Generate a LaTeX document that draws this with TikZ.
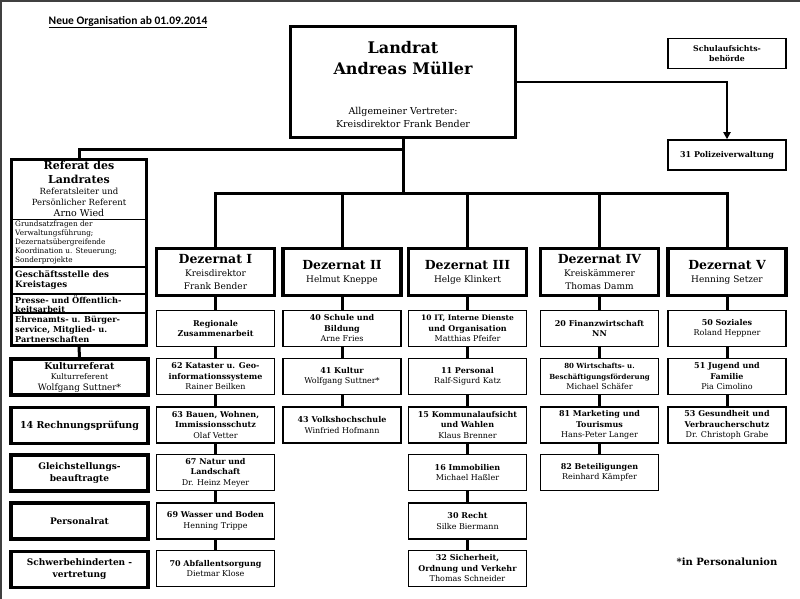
\documentclass[tikz,border=0pt]{standalone}
\usepackage{fontspec}
\setmainfont{DejaVu Serif}
\newfontfamily\titlefont{Carlito}
\usetikzlibrary{arrows.meta}
\newcommand\bb[1]{\textbf{#1}}
\begin{document}
\begin{tikzpicture}[x=1pt,y=-1pt,
 conn/.style={line width=3pt},
 sub/.style={draw,line width=1.8pt,minimum width=118pt,minimum height=36pt,align=center,inner sep=1pt,font=\fontsize{8}{10.5}\selectfont},
 dez/.style={draw,line width=3.2pt,minimum width=118pt,minimum height=47pt,align=center,inner sep=1pt,font=\fontsize{9}{13}\selectfont},
 side/.style={draw,line width=3.5pt,minimum width=137pt,minimum height=36pt,align=center,inner sep=1pt,font=\fontsize{9}{12}\selectfont\bfseries},
 small/.style={draw,line width=1.5pt,minimum width=118pt,minimum height=30pt,align=center,inner sep=1pt,font=\fontsize{7.8}{9.5}\selectfont\bfseries},
 txt/.style={inner sep=0pt,align=left,anchor=west}
]
\useasboundingbox (0,0) rectangle (800,599);
\fill[white] (0,0) rectangle (800,599);
\draw[line width=2pt,black!75] (1,599) -- (1,1) -- (800,1);

\node[inner sep=0pt,font=\titlefont\fontsize{11.5}{13}\selectfont\bfseries] (title) at (128,22) {\underline{Neue Organisation ab 01.09.2014}};

% Landrat
\node[draw,line width=3pt,minimum width=225pt,minimum height=111pt] (land) at (403,82) {};
\node[align=center,font=\fontsize{16}{21}\selectfont\bfseries] (landt) at (403,58) {Landrat\\Andreas Müller};
\node[align=center,font=\fontsize{9.5}{13}\selectfont] (landv) at (403,117) {Allgemeiner Vertreter:\\Kreisdirektor Frank Bender};

\node[small] (schul) at (727,53.5) {Schulaufsichts-\\behörde};
\node[small,font=\fontsize{8}{9.5}\selectfont\bfseries] (pol) at (727,155) {31 Polizeiverwaltung};
\draw[line width=2.5pt,-{Triangle[length=7pt,width=7pt]}] (land.east) -| (pol.north);

% Referat des Landrates
\node[draw,line width=3pt,minimum width=135pt,minimum height=186pt] (ref) at (79,252.5) {};
\draw[line width=1pt] (ref.west |- 0,219) -- (ref.east |- 0,219);
\draw[line width=1.5pt] (ref.west |- 0,267) -- (ref.east |- 0,267);
\draw[line width=1.5pt] (ref.west |- 0,294) -- (ref.east |- 0,294);
\draw[line width=1.5pt] (ref.west |- 0,313) -- (ref.east |- 0,313);
\node[align=center,inner sep=0pt,font=\fontsize{11}{14}\selectfont\bfseries] (refh) at (79,172) {Referat des\\Landrates};
\node[align=center,inner sep=0pt,font=\fontsize{8.5}{11}\selectfont] (refn) at (79,202) {Referatsleiter und\\Persönlicher Referent\\{\fontsize{9.5}{11}\selectfont Arno Wied}};
\node[txt,font=\fontsize{7.3}{9}\selectfont] (grund) at (15,243) {Grundsatzfragen der\\Verwaltungsführung;\\Dezernatsübergreifende\\Koordination u. Steuerung;\\Sonderprojekte};
\node[txt,font=\fontsize{8.7}{10}\selectfont\bfseries] (gesch) at (15,280.5) {Geschäftsstelle des\\Kreistages};
\node[txt,font=\fontsize{8.2}{9.5}\selectfont\bfseries] (presse) at (15,304) {Presse- und Öffentlich-\\keitsarbeit};
\node[txt,font=\fontsize{8.2}{10.3}\selectfont\bfseries] (ehren) at (15,329.5) {Ehrenamts- u. Bürger-\\service, Mitglied- u.\\Partnerschaften};

% left column boxes
\node[side,font=\fontsize{7.8}{10.5}\selectfont] (kul) at (79.5,377) {{\fontsize{9.3}{10.5}\selectfont\bfseries Kulturreferat}\\Kulturreferent\\{\fontsize{8.8}{10.5}\selectfont Wolfgang Suttner*}};
\node[side,font=\fontsize{9.5}{12}\selectfont\bfseries] (rech) at (79.5,425.5) {14 Rechnungsprüfung};
\node[side] (gleich) at (79.5,473) {Gleichstellungs-\\beauftragte};
\node[side] (prat) at (79.5,521) {Personalrat};
\node[side] (schwer) at (79.5,569.5) {Schwerbehinderten -\\vertretung};

% Dezernate
\node[dez] (d1) at (215.5,272) {{\fontsize{12.5}{13}\selectfont\bfseries Dezernat I}\\Kreisdirektor\\Frank Bender};
\node[dez] (d2) at (342,272) {{\fontsize{12.5}{13}\selectfont\bfseries Dezernat II}\\Helmut Kneppe};
\node[dez] (d3) at (467.5,272) {{\fontsize{12.5}{13}\selectfont\bfseries Dezernat III}\\Helge Klinkert};
\node[dez] (d4) at (599.5,272) {{\fontsize{12.5}{13}\selectfont\bfseries Dezernat IV}\\Kreiskämmerer\\Thomas Damm};
\node[dez] (d5) at (727,272) {{\fontsize{12.5}{13}\selectfont\bfseries Dezernat V}\\Henning Setzer};

% top connectors
\draw[conn] (land.south) -- ++(0,10) -| (ref.north);
\foreach \d in {d1,d2,d3,d4,d5} \draw[conn] (land.south) -- ++(0,54) -| (\d.north);
\draw[conn] (ref.south) -- (kul.north);

% column I
\node[sub] (a1) at (215.5,328.5) {\bb{Regionale}\\\bb{Zusammenarbeit}};
\node[sub] (a2) at (215.5,376.5) {\bb{62 Kataster u. Geo-}\\\bb{informationssysteme}\\Rainer Beilken};
\node[sub] (a3) at (215.5,425) {\bb{63 Bauen, Wohnen,}\\\bb{Immissionsschutz}\\Olaf Vetter};
\node[sub] (a4) at (215.5,472.5) {\bb{67 Natur und}\\\bb{Landschaft}\\Dr. Heinz Meyer};
\node[sub] (a5) at (215.5,521) {\bb{69 Wasser und Boden}\\Henning Trippe};
\node[sub] (a6) at (215.5,568.5) {\bb{70 Abfallentsorgung}\\Dietmar Klose};
% column II
\node[sub] (b1) at (342,328.5) {\bb{40 Schule und}\\\bb{Bildung}\\Arne Fries};
\node[sub] (b2) at (342,376.5) {\bb{41 Kultur}\\Wolfgang Suttner*};
\node[sub] (b3) at (342,425) {\bb{43 Volkshochschule}\\Winfried Hofmann};
% column III
\node[sub] (c1) at (467.5,328.5) {\bb{\fontsize{7.5}{10.5}\selectfont 10 IT, Interne Dienste}\\\bb{und Organisation}\\Matthias Pfeifer};
\node[sub] (c2) at (467.5,376.5) {\bb{11 Personal}\\Ralf-Sigurd Katz};
\node[sub] (c3) at (467.5,425) {\bb{15 Kommunalaufsicht}\\\bb{und Wahlen}\\Klaus Brenner};
\node[sub] (c4) at (467.5,472.5) {\bb{16 Immobilien}\\Michael Haßler};
\node[sub] (c5) at (467.5,521) {\bb{30 Recht}\\Silke Biermann};
\node[sub] (c6) at (467.5,568.5) {\bb{32 Sicherheit,}\\\bb{Ordnung und Verkehr}\\Thomas Schneider};
% column IV
\node[sub] (e1) at (599.5,328.5) {\bb{20 Finanzwirtschaft}\\\bb{NN}};
\node[sub] (e2) at (599.5,376.5) {\bb{\fontsize{7}{10}\selectfont 80 Wirtschafts- u.}\\\bb{\fontsize{7}{10}\selectfont Beschäftigungsförderung}\\Michael Schäfer};
\node[sub] (e3) at (599.5,425) {\bb{81 Marketing und}\\\bb{Tourismus}\\Hans-Peter Langer};
\node[sub] (e4) at (599.5,472.5) {\bb{82 Beteiligungen}\\Reinhard Kämpfer};
% column V
\node[sub] (f1) at (727,328.5) {\bb{50 Soziales}\\Roland Heppner};
\node[sub] (f2) at (727,376.5) {\bb{51 Jugend und}\\\bb{Familie}\\Pia Cimolino};
\node[sub] (f3) at (727,425) {\bb{53 Gesundheit und}\\\bb{Verbraucherschutz}\\Dr. Christoph Grabe};

% column connectors
\foreach \u/\v in {d1/a1,a1/a2,a2/a3,a3/a4,a4/a5,a5/a6,d2/b1,b1/b2,b2/b3,d3/c1,c1/c2,c2/c3,c3/c4,c4/c5,c5/c6,d4/e1,e1/e2,e2/e3,e3/e4,d5/f1,f1/f2,f2/f3}
  \draw[conn] (\u.south) -- (\v.north);

\node[inner sep=0pt,font=\fontsize{10}{12}\selectfont\bfseries] (pu) at (727,562) {*in Personalunion};
\end{tikzpicture}
\end{document}
